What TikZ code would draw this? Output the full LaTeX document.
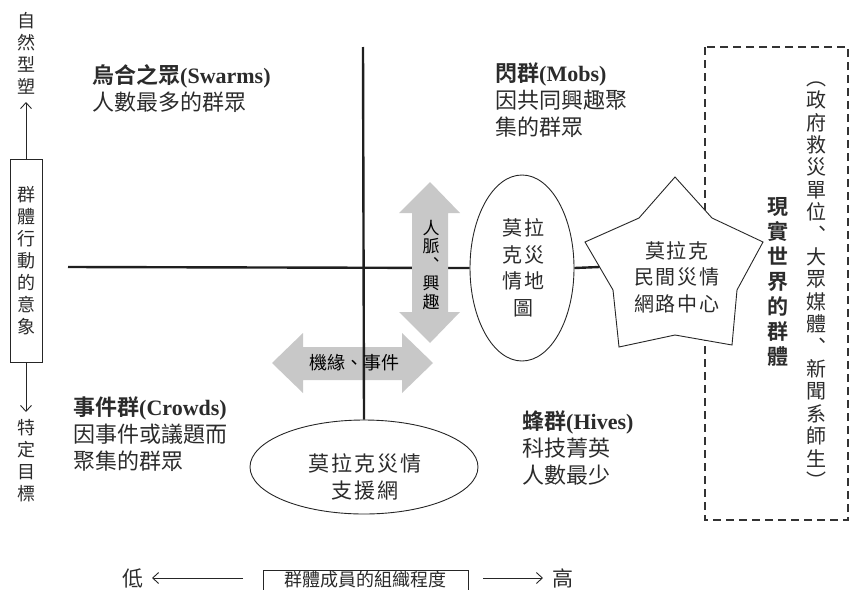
\documentclass[tikz,border=0pt]{standalone}
\usepackage{fontspec}
\setmainfont{Liberation Serif}
\newfontfamily\cjk{Noto Sans CJK TC}
\newfontfamily\cjkb{Noto Sans CJK TC Bold}
\newfontfamily\cjksp[LetterSpace=10]{Noto Sans CJK TC}
\usetikzlibrary{arrows.meta,shapes.geometric}
\definecolor{ink}{HTML}{2B2B2B}
\definecolor{arrowgray}{HTML}{C8C8C8}
\begin{document}
\begin{tikzpicture}[x=1pt,y=-1pt,
  head/.style={inner sep=0pt, text=ink, align=left, anchor=west, font=\fontsize{22}{27}\selectfont},
  vtxt/.style={inner sep=0pt, text=ink, align=center, font=\cjk\fontsize{18}{22}\selectfont},
  axisline/.style={line width=2.4pt, draw=black!88},
  thinline/.style={line width=0.9pt, draw=black!85},
  sarrow/.style={-{Straight Barb[length=6pt,width=11pt]}, line width=0.9pt, draw=black!85},
  grayarrow/.style={fill=arrowgray, draw=none},
  midtxt/.style={inner sep=0pt, text=ink, align=center, font=\cjksp\fontsize{20}{26.5}\selectfont}]
\useasboundingbox (0,0) rectangle (853,589);

% quadrant labels
\node[head] (swarms) at (92,88.5) {{\cjkb 烏合之眾}\textbf{(Swarms)}\\{\cjk 人數最多的群眾}};
\node[head] (mobs) at (495,100) {{\cjkb 閃群}\textbf{(Mobs)}\\{\cjk 因共同興趣聚}\\{\cjk 集的群眾}};
\node[head] (crowds) at (73,434.5) {{\cjkb 事件群}\textbf{(Crowds)}\\{\cjk 因事件或議題而}\\{\cjk 聚集的群眾}};
\node[head] (hives) at (522,448.5) {{\cjkb 蜂群}\textbf{(Hives)}\\{\cjk 科技菁英}\\{\cjk 人數最少}};

% left vertical scale
\node[vtxt] (nat) at (26,53) {自\\然\\型\\塑};
\node[vtxt, draw=black!85, line width=0.9pt, minimum width=32pt, minimum height=203pt] (imgbox) at (26,260.5) {群\\體\\行\\動\\的\\意\\象};
\node[vtxt] (tgt) at (26,461) {特\\定\\目\\標};
\coordinate (upTip) at (26,102);
\coordinate (dnTip) at (26,412);
\draw[sarrow] (imgbox.north) -- (upTip);
\draw[sarrow] (imgbox.south) -- (dnTip);

% bottom scale
\node[inner sep=0pt, text=ink, font=\cjk\fontsize{21}{24}\selectfont] (low) at (133,578) {低};
\node[inner sep=0pt, text=ink, font=\cjk\fontsize{21}{24}\selectfont] (high) at (563,578) {高};
\node[draw=black!85, line width=0.9pt, minimum width=205pt, minimum height=40pt, inner sep=0pt] (orgbox) at (365.5,590) {};
\node[inner sep=0pt, text=ink, font=\cjk\fontsize{18}{22}\selectfont] (orgtxt) at (365.5,580) {群體成員的組織程度};
\coordinate (lA) at (243,578);
\coordinate (lTip) at (152,578);
\coordinate (rA) at (483,578);
\coordinate (rTip) at (543,578);
\draw[sarrow] (lA) -- (lTip);
\draw[sarrow] (rA) -- (rTip);

% dashed real-world box
\draw[line width=1.5pt, draw=black!80, dash pattern=on 8pt off 5pt] (705,47) rectangle (848,520);
\node[inner sep=0pt, text=ink, align=center, font=\cjkb\fontsize{21}{25}\selectfont] (real) at (778,282) {現\\實\\世\\界\\的\\群\\體};
\node[inner sep=0pt, text=ink, align=center, font=\cjk\fontsize{20}{22.4}\selectfont] (realsub) at (816,285) {︵\\政\\府\\救\\災\\單\\位\\︑\\大\\眾\\媒\\體\\︑\\新\\聞\\系\\師\\生\\︶};

% ellipses
\node[ellipse, draw=black!85, line width=0.9pt, minimum width=104pt, minimum height=186pt, inner sep=0pt] (mapE) at (522,268) {};
\node[midtxt] (mapT) at (523,268) {莫拉\\克災\\情地\\圖};
\node[ellipse, draw=black!85, line width=0.9pt, minimum width=228pt, minimum height=94pt, inner sep=0pt] (netE) at (364,467) {};
\node[midtxt, font=\cjksp\fontsize{21}{27}\selectfont] (netT) at (365,477) {莫拉克災情\\支援網};

% star
\filldraw[fill=white, draw=black!85, line width=0.9pt]
  (675,177) -- (712,218) -- (763,242) -- (737,290) -- (732,345) -- (675,335)
  -- (619,347) -- (613,290) -- (585,242) -- (639,218) -- cycle;
\node[midtxt] (starT) at (677,277) {莫拉克\\民間災情\\網路中心};
\coordinate (starL) at (599.6,267);

% horizontal axis
\coordinate (hStart) at (68,267);
\draw[axisline] (hStart) -- (mapE.west);
\draw[axisline] (mapE.east) -- (starL);

% gray double arrows
\fill[grayarrow] (430,182) -- (460,213) -- (448,213) -- (448,312) -- (460,312) -- (430,343)
  -- (399,312) -- (412,312) -- (412,213) -- (399,213) -- cycle;
\node[inner sep=0pt, text=black, align=center, font=\cjk\fontsize{17}{18.5}\selectfont] (vaT) at (431,265) {人\\脈\\︑\\興\\趣};
\fill[grayarrow] (272,363) -- (303,333) -- (303,347) -- (402,347) -- (402,333) -- (433,363)
  -- (402,393) -- (402,380) -- (303,380) -- (303,393) -- cycle;

% vertical axis
\coordinate (vStart) at (363,47);
\draw[axisline] (vStart) -- (netE.north);
\node[inner sep=0pt, text=black, font=\cjk\fontsize{18}{22}\selectfont] (haT) at (354,363) {機緣、事件};
\end{tikzpicture}
\end{document}
